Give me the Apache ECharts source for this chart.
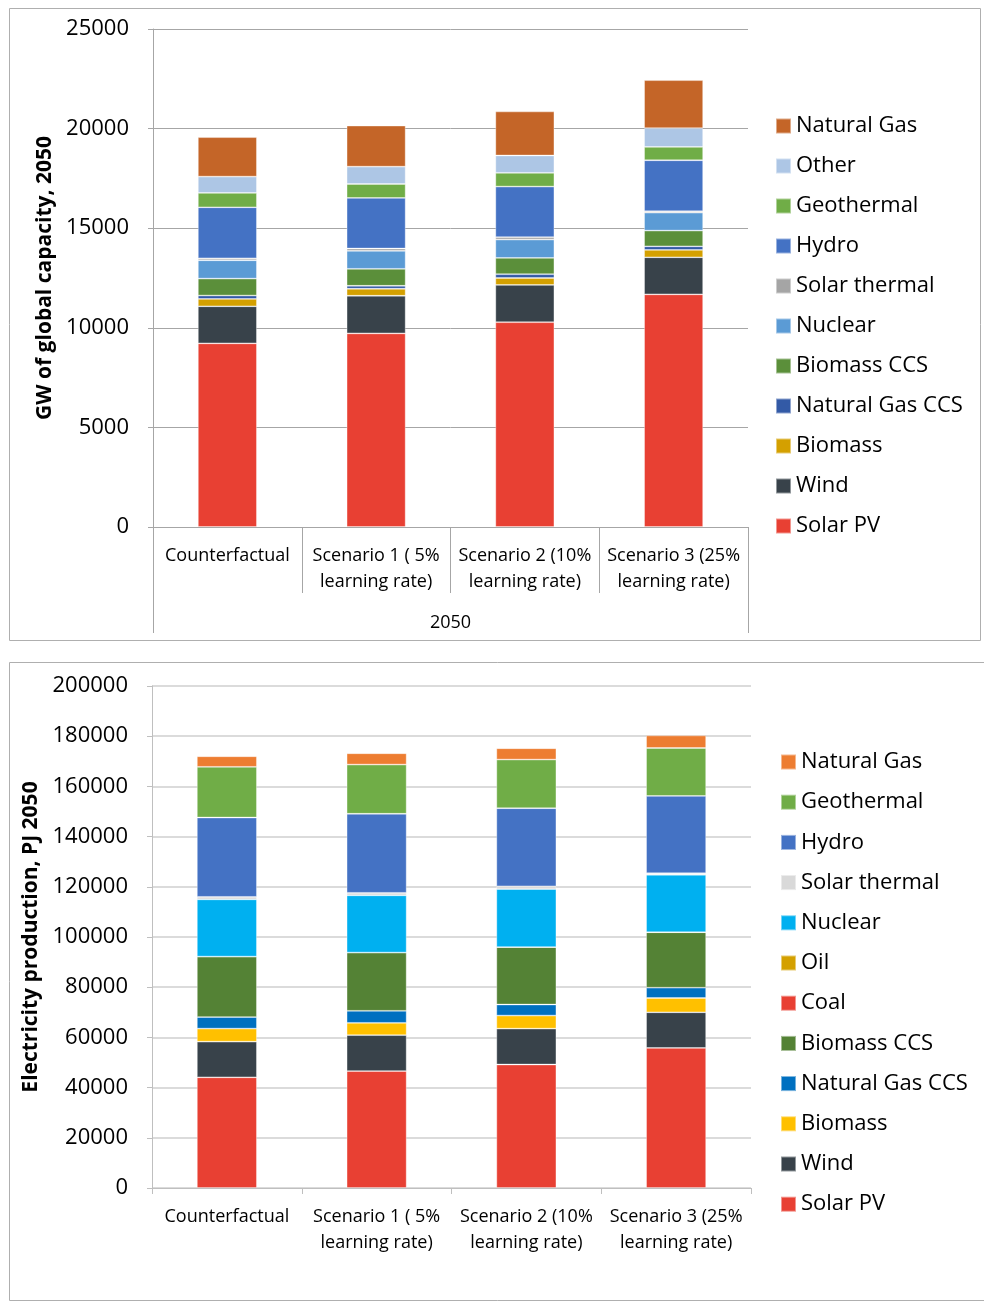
<!DOCTYPE html>
<html>
<head>
<meta charset="utf-8">
<script src="https://cdn.jsdelivr.net/npm/echarts@6/dist/echarts.min.js"></script>
<style>
html,body{margin:0;padding:0;background:#fff;}
#chart{width:984px;height:1302px;}
</style>
</head>
<body>
<div id="chart"></div>
<script>
// ---------- data ----------
const categories = ['Counterfactual', 'Scenario 1 ( 5%\nlearning rate)', 'Scenario 2 (10%\nlearning rate)', 'Scenario 3 (25%\nlearning rate)'];
const topGroupLabel = ['2050'];

// Top chart: GW of global capacity, 2050 (bottom of stack first)
const capSolarPV     = [9220, 9720, 10280, 11680];
const capWind        = [1860, 1890, 1870, 1860];
const capBiomass     = [370, 350, 350, 370];
const capNatGasCCS   = [170, 150, 190, 180];
const capBiomassCCS  = [850, 850, 820, 790];
const capNuclear     = [920, 900, 920, 900];
const capSolarTherm  = [100, 120, 120, 70];
const capHydro       = [2560, 2540, 2540, 2560];
const capGeothermal  = [720, 700, 690, 670];
const capOther       = [820, 870, 870, 940];
const capNaturalGas  = [1980, 2060, 2210, 2410];

// Bottom chart: Electricity production, PJ 2050
const prodSolarPV    = [44100, 46600, 49200, 55800];
const prodWind       = [14200, 14300, 14300, 14200];
const prodBiomass    = [5200, 4900, 5200, 5700];
const prodNatGasCCS  = [4600, 4800, 4400, 4100];
const prodBiomassCCS = [24100, 23200, 22900, 22100];
const prodCoal       = [0, 0, 0, 0];
const prodOil        = [0, 0, 0, 0];
const prodNuclear    = [22800, 22800, 23100, 22900];
const prodSolarTherm = [1000, 1000, 1100, 600];
const prodHydro      = [31600, 31500, 31100, 30800];
const prodGeothermal = [20200, 19600, 19400, 19100];
const prodNaturalGas = [4200, 4500, 4500, 5000];

const topTicks = [0, 5000, 10000, 15000, 20000, 25000];
const bottomTicks = [0, 20000, 40000, 60000, 80000, 100000, 120000, 140000, 160000, 180000, 200000];

// ---------- series definitions ----------
const topSeriesDefs = [
  ['Solar PV', capSolarPV, '#E84033'],
  ['Wind', capWind, '#38424A'],
  ['Biomass', capBiomass, '#D4A000'],
  ['Natural Gas CCS', capNatGasCCS, '#335AA6'],
  ['Biomass CCS', capBiomassCCS, '#5B8F3A'],
  ['Nuclear', capNuclear, '#5B9BD5'],
  ['Solar thermal', capSolarTherm, '#A5A5A5'],
  ['Hydro', capHydro, '#4472C4'],
  ['Geothermal', capGeothermal, '#70AD47'],
  ['Other', capOther, '#ADC6E5'],
  ['Natural Gas', capNaturalGas, '#C46528']
];
const bottomSeriesDefs = [
  ['Solar PV', prodSolarPV, '#E84033'],
  ['Wind', prodWind, '#38424A'],
  ['Biomass', prodBiomass, '#FFC000'],
  ['Natural Gas CCS', prodNatGasCCS, '#0070C0'],
  ['Biomass CCS', prodBiomassCCS, '#548235'],
  ['Coal', prodCoal, '#E84033'],
  ['Oil', prodOil, '#D4A000'],
  ['Nuclear', prodNuclear, '#00B0F0'],
  ['Solar thermal', prodSolarTherm, '#D9D9D9'],
  ['Hydro', prodHydro, '#4472C4'],
  ['Geothermal', prodGeothermal, '#70AD47'],
  ['Natural Gas', prodNaturalGas, '#ED7D31']
];

const FONT = 'Open Sans';
const series = [];
topSeriesDefs.forEach(([n, d, c]) => series.push({
  name: 't:' + n, type: 'bar', stack: 'top', xAxisIndex: 0, yAxisIndex: 0,
  data: d, barWidth: 59,
  itemStyle: { color: c, borderColor: 'rgba(255,255,255,0.45)', borderWidth: 0.8 }
}));
bottomSeriesDefs.forEach(([n, d, c]) => series.push({
  name: 'b:' + n, type: 'bar', stack: 'bottom', xAxisIndex: 2, yAxisIndex: 1,
  data: d, barWidth: 60,
  itemStyle: { color: c, borderColor: 'rgba(255,255,255,0.45)', borderWidth: 0.8 }
}));

const chart = echarts.init(document.getElementById('chart'), null, { renderer: 'canvas' });
const axisGrey = '#A6A6A6';
const labelStyle = { color: '#000', fontFamily: FONT };
const plainNum = v => String(v);

chart.setOption({
  animation: false,
  backgroundColor: '#fff',
  graphic: [
    { type: 'rect', shape: { x: 9.5, y: 8.5, width: 971, height: 632 }, style: { fill: 'none', stroke: '#AFAFAF', lineWidth: 1 }, z: -1 },
    { type: 'rect', shape: { x: 9.5, y: 662.5, width: 1000, height: 638 }, style: { fill: 'none', stroke: '#AFAFAF', lineWidth: 1 }, z: -1 }
  ],
  grid: [
    { left: 153, right: 236, top: 29, bottom: 775 },
    { left: 152, right: 233, top: 686, bottom: 114 }
  ],
  legend: [
    {
      orient: 'vertical', left: 770, top: 109,
      itemWidth: 15, itemHeight: 15, itemGap: 16, icon: 'rect',
      data: topSeriesDefs.map(s => 't:' + s[0]).reverse(),
      formatter: name => name.replace(/^[tb]:/, ''),
      textStyle: { color: '#000', fontFamily: FONT, fontSize: 22, lineHeight: 24 },
      selectedMode: false
    },
    {
      orient: 'vertical', left: 775, top: 745,
      itemWidth: 15, itemHeight: 15, itemGap: 16.2, icon: 'rect',
      data: bottomSeriesDefs.map(s => 'b:' + s[0]).reverse(),
      formatter: name => name.replace(/^[tb]:/, ''),
      textStyle: { color: '#000', fontFamily: FONT, fontSize: 22, lineHeight: 24 },
      selectedMode: false
    }
  ],
  xAxis: [
    {
      type: 'category', gridIndex: 0, data: categories, position: 'bottom',
      axisLine: { show: true, lineStyle: { color: axisGrey, width: 1 } },
      axisTick: { show: true, interval: 0, length: 66, alignWithLabel: false, lineStyle: { color: axisGrey } },
      axisLabel: Object.assign({ interval: 0, fontSize: 18, lineHeight: 26, margin: 16 }, labelStyle)
    },
    {
      type: 'category', gridIndex: 0, data: topGroupLabel, position: 'bottom',
      axisLine: { show: false },
      axisTick: { show: true, interval: 0, length: 106, alignWithLabel: false, lineStyle: { color: axisGrey } },
      axisLabel: Object.assign({ interval: 0, fontSize: 18, margin: 87 }, labelStyle)
    },
    {
      type: 'category', gridIndex: 1, data: categories, position: 'bottom',
      axisLine: { show: true, lineStyle: { color: '#BFBFBF', width: 1 } },
      axisTick: { show: true, interval: 0, length: 6, alignWithLabel: false, lineStyle: { color: '#BFBFBF' } },
      axisLabel: Object.assign({ interval: 0, fontSize: 18, lineHeight: 26, margin: 16 }, labelStyle)
    }
  ],
  yAxis: [
    {
      type: 'value', gridIndex: 0, min: topTicks[0], max: topTicks[topTicks.length - 1],
      interval: topTicks[1] - topTicks[0],
      name: 'GW of global capacity, 2050', nameLocation: 'middle', nameGap: 96,
      nameTextStyle: { color: '#000', fontFamily: FONT, fontSize: 21, fontWeight: 'bold' },
      axisLine: { show: true, lineStyle: { color: axisGrey } },
      axisTick: { show: true, length: 5, lineStyle: { color: axisGrey } },
      axisLabel: Object.assign({ fontSize: 22, margin: 24, formatter: plainNum }, labelStyle),
      splitLine: { show: true, lineStyle: { color: axisGrey, width: 1 } }
    },
    {
      type: 'value', gridIndex: 1, min: bottomTicks[0], max: bottomTicks[bottomTicks.length - 1],
      interval: bottomTicks[1] - bottomTicks[0],
      name: 'Electricity production, PJ 2050', nameLocation: 'middle', nameGap: 109,
      nameTextStyle: { color: '#000', fontFamily: FONT, fontSize: 21, fontWeight: 'bold' },
      axisLine: { show: true, lineStyle: { color: '#BFBFBF' } },
      axisTick: { show: true, length: 5, lineStyle: { color: '#BFBFBF' } },
      axisLabel: Object.assign({ fontSize: 22, margin: 24, formatter: plainNum }, labelStyle),
      splitLine: { show: true, lineStyle: { color: '#CFCFCF', width: 1.5 } }
    }
  ],
  series: series
});
</script>
</body>
</html>
